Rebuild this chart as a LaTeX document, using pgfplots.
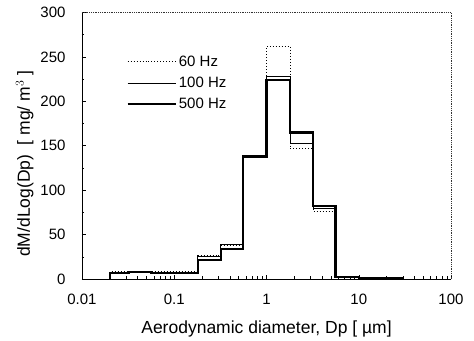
\documentclass[border=0pt]{standalone}
\usepackage{pgfplots}
\pgfplotsset{compat=1.18}
\usepackage{fontspec}
\setmainfont{Liberation Sans}
\begin{document}
\begin{tikzpicture}
\begin{axis}[
  name=ax,
  scale only axis,
  width=369bp, height=266.5bp,
  xmode=log,
  xmin=0.01, xmax=100,
  ymin=0, ymax=300,
  ytick={0,50,...,300},
  minor ytick={25,75,...,275},
  xtick={0.01,0.1,1,10,100},
  xticklabels={0.01,0.1,1,10,100},
  axis lines*=left,
  axis line style={black, line width=0.7pt, -},
  /pgf/number format/assume math mode=true,
  tick align=inside,
  major tick length=4bp, minor tick length=2.5bp,
  tick style={black, line width=0.5pt},
  ticklabel style={font=\fontsize{15bp}{17bp}\selectfont},
  yticklabel style={xshift=-13bp},
  xticklabel style={yshift=-12bp},
  label style={font=\fontsize{17.5bp}{19bp}\selectfont},
  xlabel={Aerodynamic diameter, Dp [ µm]},
  ylabel={dM/dLog(Dp) \ [ mg/ m$^3$ ]},
  xlabel style={yshift=-9bp},
  ylabel style={yshift=0bp, xshift=-18bp},
  clip=false,
  legend style={draw=none, fill=none, at={(rel axis cs:0.12,0.845)}, anchor=north west,
    font=\fontsize{15bp}{17bp}\selectfont, row sep=5bp, inner sep=0pt,
    /tikz/every even column/.append style={column sep=4bp}},
  legend cell align=left,
  legend image code/.code={\draw[#1] (0cm,0cm) -- (1.7cm,0cm);},
]
\draw[black!80, densely dotted, line width=0.8pt] (rel axis cs:0,1) -- (rel axis cs:1,1) -- (rel axis cs:1,0);
\addplot[const plot mark left, black, dotted, line width=1pt] coordinates {
 (0.02,0) (0.02,8) (0.032,9) (0.056,8) (0.1,8) (0.18,27) (0.32,38) (0.56,139) (1.0,262) (1.8,147) (3.2,76) (5.6,3) (10,1) (18,0.5) (30,0)};
\addlegendentry{60 Hz}
\addplot[const plot mark left, black, line width=0.8pt] coordinates {
 (0.02,0) (0.02,6) (0.032,7) (0.056,6) (0.1,6) (0.18,25) (0.32,39) (0.56,139) (1.0,228) (1.8,153) (3.2,80) (5.6,2) (10,1) (18,0.5) (30,0)};
\addlegendentry{100 Hz}
\addplot[const plot mark left, black, line width=2.2pt] coordinates {
 (0.02,0) (0.02,7) (0.032,8) (0.056,7) (0.1,7) (0.18,21) (0.32,34) (0.56,138) (1.0,224) (1.8,165) (3.2,82) (5.6,2) (10,1) (18,0.5) (30,0)};
\addlegendentry{500 Hz}
\end{axis}
\path[use as bounding box] (ax.south west) ++(-82bp,-61bp) rectangle ++(474bp,340bp);
\end{tikzpicture}
\end{document}
